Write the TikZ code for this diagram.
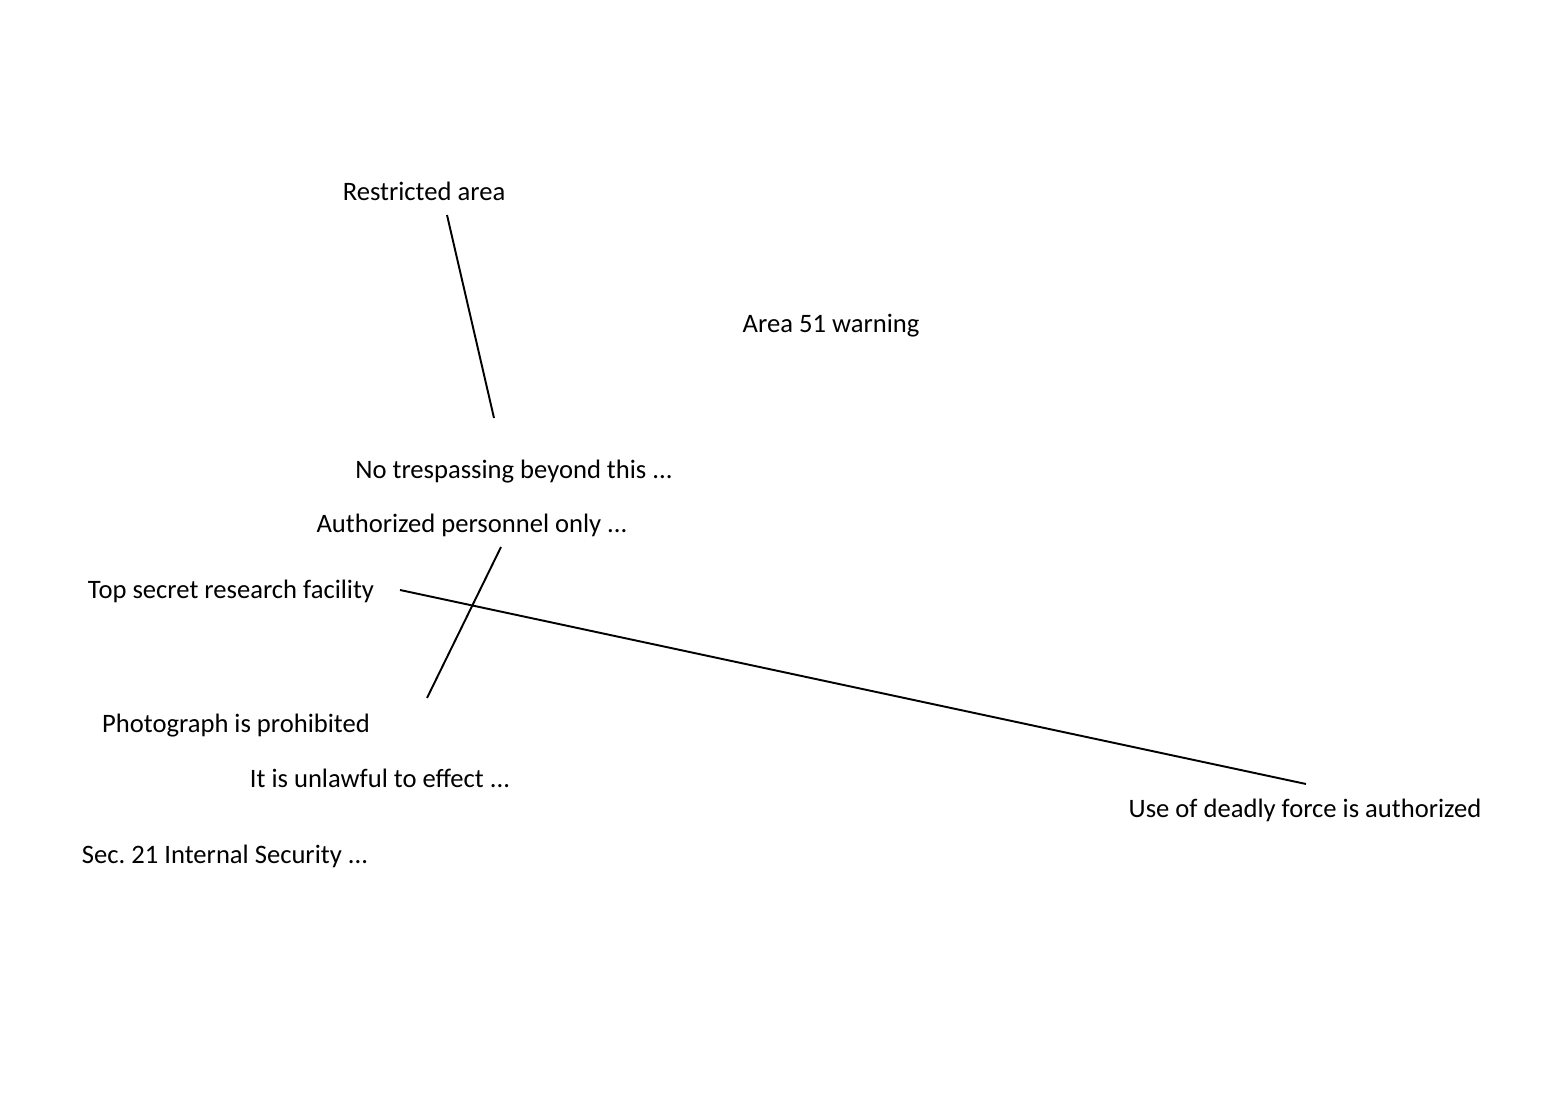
\documentclass[tikz,border=0pt]{standalone}
\usepackage{fontspec}
\setmainfont{Carlito}
\tikzset{
  label/.style={inner sep=0pt, font=\fontsize{7.57}{9}\selectfont},
  link/.style={line width=0.55pt, black}
}
\begin{document}
\frenchspacing
\begin{tikzpicture}
        \useasboundingbox (0, 0) rectangle (15.51, 11);

        % Labels
        \node[label] (restricted) at (4.24, 9.085) {Restricted area};
        \node[label] (warning) at (8.31, 7.745) {Area 51 warning};
        \node[label] (trespass) at (5.14, 6.285) {No trespassing beyond this ...};
        \node[label] (personnel) at (4.72, 5.745) {Authorized personnel only ...};
        \node[label] (facility) at (2.31, 5.085) {Top secret research facility};
        \node[label] (photo) at (2.36, 3.745) {Photograph is prohibited};
        \node[label] (unlawful) at (3.80, 3.215) {It is unlawful to effect ...};
        \node[label] (security) at (2.25, 2.435) {Sec. 21 Internal Security ...};
        \node[label] (force) at (13.05, 2.895) {Use of deadly force is authorized};

        % Line ends
        \coordinate (r1) at (4.47, 8.85);
        \coordinate (r2) at (4.94, 6.82);
        \coordinate (p1) at (5.01, 5.53);
        \coordinate (p2) at (4.27, 4.02);
        \coordinate (f1) at (4.00, 5.10);
        \coordinate (f2) at (13.06, 3.16);

        % Lines
        \draw[link] (r1) -- (r2);
        \draw[link] (p1) -- (p2);
        \draw[link] (f1) -- (f2);
    \end{tikzpicture}
\end{document}
